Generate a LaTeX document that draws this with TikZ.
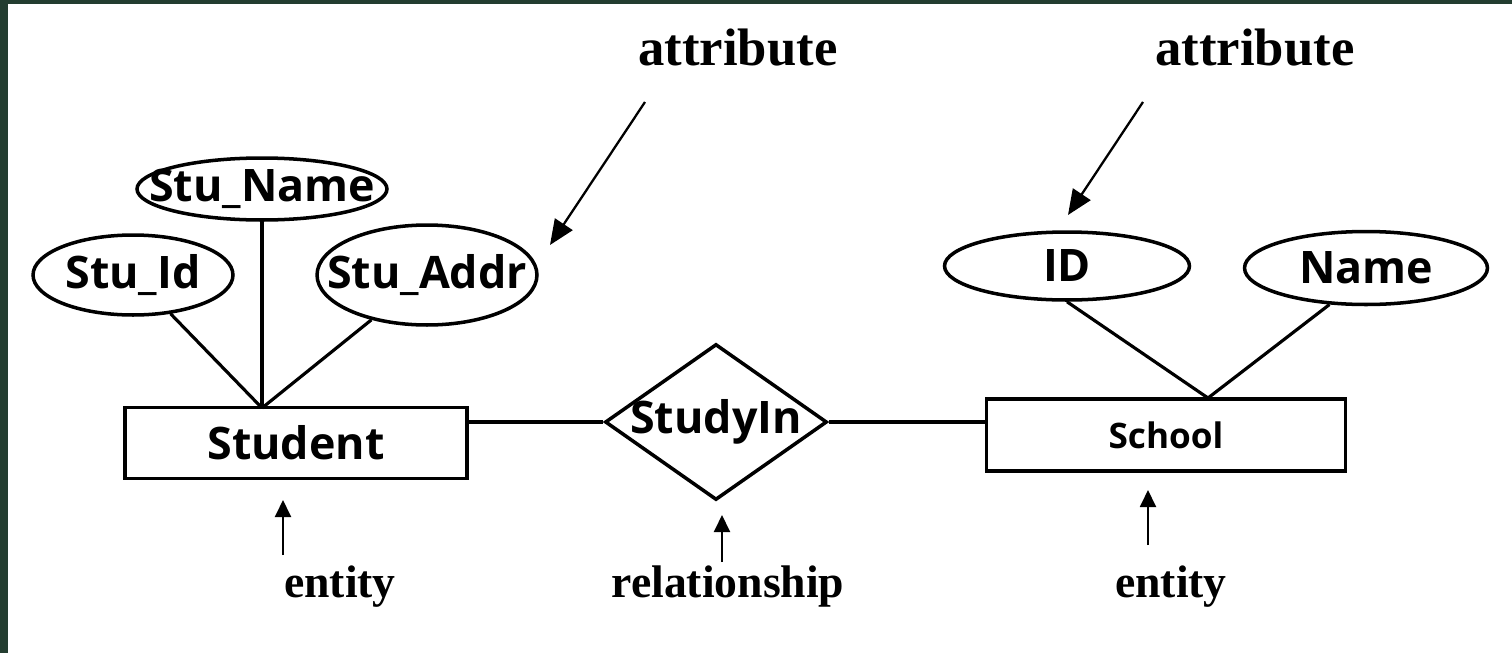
\documentclass[tikz,border=0pt]{standalone}
\usepackage{fontspec}
\setmainfont{Liberation Serif}
\setsansfont{Open Sans}
\usetikzlibrary{shapes.geometric,arrows.meta}

\definecolor{slidegreen}{HTML}{233D30}
\newcommand{\nowidth}[1]{\makebox[0pt]{\raisebox{-1.5pt}{#1}}}

\begin{document}
\begin{tikzpicture}[x=0.02cm, y=-0.02cm,
    shapefont/.style={font=\sffamily\bfseries\fontsize{25.5}{27}\selectfont},
    entity/.style={draw, line width=2pt, inner sep=0pt, shapefont},
    attr/.style={draw, ellipse, line width=2pt, inner sep=0pt, shapefont},
    rel/.style={draw, diamond, line width=2pt, inner sep=0pt, shapefont},
    note/.style={font=\bfseries\fontsize{26}{28}\selectfont},
    link/.style={line width=1.8pt},
    pointer/.style={line width=1.1pt, -{Triangle[length=0.34cm, width=0.32cm]}},
    bigpointer/.style={line width=1.3pt, -{Triangle[length=0.5cm, width=0.42cm]}}]

    % Frame.
    \useasboundingbox (0,0) rectangle (1512,653);
    \fill[slidegreen] (0,0) rectangle (1512,653);
    \fill[white] (8,4) rectangle (1512,653);

    % Entities and relationship.
    \node[entity, minimum width=6.84cm, minimum height=1.42cm] (student) at (296,443) {Student};
    \node[entity, minimum width=7.18cm, minimum height=1.44cm,
          font=\sffamily\bfseries\fontsize{20}{22}\selectfont] (school) at (1166,435) {School};
    \node[rel, minimum width=4.44cm, minimum height=3.12cm] (studyin) at (716,422) {\nowidth{StudyIn}};

    % Attributes of Student.
    \node[attr, minimum width=4cm, minimum height=1.6cm] (stuid) at (133,275) {\nowidth{Stu\_Id}};
    \node[attr, minimum width=5cm, minimum height=1.24cm] (stuname) at (262,189) {\nowidth{Stu\_Name}};
    \node[attr, minimum width=4.4cm, minimum height=2cm] (stuaddr) at (427,275) {\nowidth{Stu\_Addr}};

    % Attributes of School.
    \node[attr, minimum width=4.9cm, minimum height=1.36cm] (schid) at (1067,266) {\nowidth{ID}};
    \node[attr, minimum width=4.86cm, minimum height=1.46cm] (schname) at (1366,268) {\nowidth{Name}};

    % Lines.
    \coordinate (stujoin) at (262,408);
    \coordinate (schjoin) at (1208,398);
    \draw[link] (stuid) -- (stujoin);
    \draw[link] (stuname) -- (stujoin);
    \draw[link] (stuaddr) -- (stujoin);
    \draw[link] (schid.south) -- (schjoin);
    \draw[link] (schname.225) -- (schjoin);
    \draw[link] (student.east |- studyin.west) -- (studyin.west);
    \draw[link] (studyin.east) -- (school.west |- studyin.east);

    % Labels.
    \node[note, font=\bfseries\fontsize{30}{32}\selectfont] (attrA) at (738,48) {attribute};
    \node[note, font=\bfseries\fontsize{30}{32}\selectfont] (attrB) at (1255,48) {attribute};
    \node[note] (entA) at (340,587) {entity};
    \node[note] (relA) at (728,587) {relationship};
    \node[note] (entB) at (1171,587) {entity};

    % Pointers.
    \coordinate (attrAtail) at (645,102);
    \coordinate (attrAtip) at (550,245);
    \coordinate (attrBtail) at (1143,102);
    \coordinate (attrBtip) at (1068,215);
    \draw[bigpointer] (attrAtail) -- (attrAtip);
    \draw[bigpointer] (attrBtail) -- (attrBtip);
    \coordinate (entAtail) at (283,555);
    \coordinate (entAtip) at (283,500);
    \coordinate (relAtail) at (722,562);
    \coordinate (relAtip) at (722,515);
    \coordinate (entBtail) at (1148,545);
    \coordinate (entBtip) at (1148,490);
    \draw[pointer] (entAtail) -- (entAtip);
    \draw[pointer] (relAtail) -- (relAtip);
    \draw[pointer] (entBtail) -- (entBtip);

\end{tikzpicture}
\end{document}
